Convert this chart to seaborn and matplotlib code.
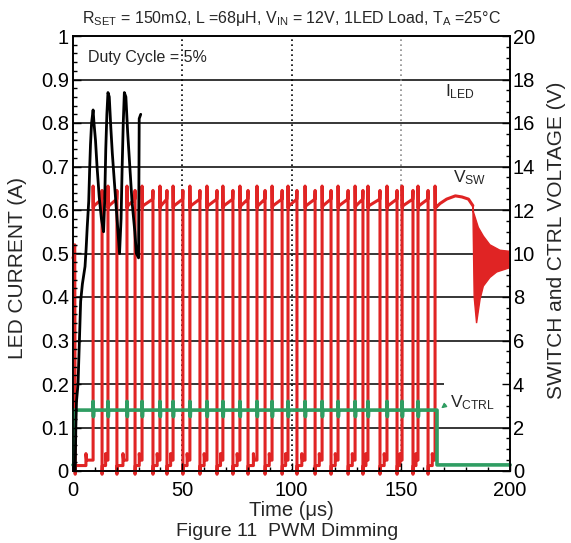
import matplotlib
matplotlib.use("Agg")
import matplotlib.pyplot as plt
import seaborn as sns
import pandas as pd
from matplotlib.ticker import MultipleLocator, FuncFormatter

sns.set_theme(style="white")
plt.rcParams['font.family'] = ['Liberation Sans', 'DejaVu Sans']
plt.rcParams['mathtext.fontset'] = 'custom'
plt.rcParams['mathtext.rm'] = 'Liberation Sans'
plt.rcParams['mathtext.it'] = 'Liberation Sans:italic'
plt.rcParams['mathtext.bf'] = 'Liberation Sans:bold'

# ---------------- data ----------------
# switch node: times (us) where V_SW falls to ~0 V and rises back to ~12 V
fall_t = [1.0, 13.3, 20.1, 28.4, 36.6, 43.0, 50.3, 58.1, 65.9, 73.2, 80.1,
          87.9, 95.7, 102.5, 110.8, 118.1, 125.9, 132.7, 140.5, 148.3, 155.6, 162.5]
rise_t = [9.2, 16.0, 24.7, 31.6, 39.8, 45.8, 53.5, 61.3, 68.6, 76.4, 84.2,
          91.1, 98.4, 106.2, 114.0, 121.3, 129.1, 135.0, 143.7, 150.6, 157.9, 165.7]
# V_SW levels (V)
vsw_start_t = [0.0, 0.4, 0.8]
vsw_start_v = [9.8, 9.9, 10.4]
hi_start, hi_end, spike_rise, spike_fall = 12.1, 12.5, 13.1, 12.9
lo_under, lo_start, lo_bump, lo_end = -0.15, 0.25, 0.8, 0.5
# V_SW after dimming off: hump then ringing envelope
hump_t = [165.9, 168.0, 171.0, 175.0, 178.0, 181.0, 183.0]
hump_v = [12.1, 12.3, 12.5, 12.65, 12.6, 12.5, 12.2]
ring_hi_t = [183.0, 183.3, 185.5, 187.8, 190.8, 195.4, 200.0]
ring_hi_v = [12.2, 11.9, 11.2, 10.8, 10.4, 10.15, 10.1]
ring_lo_t = [183.0, 183.6, 184.7, 186.3, 187.8, 190.8, 193.9, 200.0]
ring_lo_v = [12.2, 8.0, 6.8, 7.9, 8.5, 8.9, 9.15, 9.35]

# V_CTRL (V)
vctrl_on_t, vctrl_off_t = 0.5, 166.6
vctrl_hi, vctrl_lo = 2.8, 0.28
vctrl_spike_up, vctrl_spike_dn = 3.2, 2.5

# I_LED (A)
iled_t = [0.0, 1.0, 1.3, 1.6, 2.3, 3.0, 3.5, 4.3, 5.5, 6.0, 6.5, 7.2, 7.6, 8.0,
          8.5, 9.2, 9.6, 10.3, 11.0, 12.0, 13.0, 14.0, 14.5, 15.0, 15.5, 16.0,
          16.6, 17.3, 18.0, 19.0, 20.3, 21.3, 22.0, 22.5, 23.0, 23.5, 24.2, 25.0,
          26.0, 27.0, 28.3, 29.0, 30.0, 30.3, 31.0]
iled_a = [0.0, 0.0, 0.10, 0.16, 0.20, 0.31, 0.39, 0.43, 0.47, 0.51, 0.56, 0.62,
          0.69, 0.75, 0.80, 0.83, 0.80, 0.76, 0.70, 0.63, 0.58, 0.55, 0.62, 0.74,
          0.82, 0.87, 0.86, 0.79, 0.73, 0.66, 0.57, 0.50, 0.58, 0.70, 0.80, 0.87,
          0.86, 0.78, 0.70, 0.62, 0.55, 0.50, 0.49, 0.81, 0.82]

grid_v = [2, 4, 6, 8, 10, 12, 14, 16, 18]
grid_end = [200, 170, 200, 200, 200, 200, 200, 200, 200]
dotted_t = [50, 100, 150]
dotted_col = ['black', 'black', '0.55']

# ---------------- build traces from the data ----------------
vt, vv = list(vsw_start_t), list(vsw_start_v)
for i, (f, r) in enumerate(zip(fall_t, rise_t)):
    if i > 0:
        vt += [f - 0.1, f]
        vv += [hi_end, spike_fall]
    mid = f + 0.6 * (r - f)
    vt += [f, f + 0.1, mid, mid, mid + 0.3, r, r, r + 0.08, r + 0.5]
    vv += [lo_under, lo_start, lo_start, lo_bump, lo_end, lo_end, spike_rise, hi_start, hi_start + 0.1]
vt += hump_t
vv += hump_v
vsw = pd.DataFrame({'t': vt, 'v': vv})

ct = [0.0, vctrl_on_t, vctrl_on_t]
cv = [vctrl_lo, vctrl_lo, vctrl_hi]
for r in rise_t[:-1]:
    ct += [r - 0.1, r, r + 0.15, r + 0.3]
    cv += [vctrl_hi, vctrl_spike_up, vctrl_spike_dn, vctrl_hi]
ct += [vctrl_off_t, vctrl_off_t, 200.0]
cv += [vctrl_hi, vctrl_lo, vctrl_lo]
vctrl = pd.DataFrame({'t': ct, 'v': cv})

iled = pd.DataFrame({'t': iled_t, 'a': iled_a})

# ---------------- figure ----------------
RED, GREEN = '#e02424', '#2f9d62'
fig = plt.figure(figsize=(5.71, 5.43), dpi=100)
ax = fig.add_axes([73 / 571, 1 - 471 / 543, 437 / 571, 435 / 543])
ax2 = ax.twinx()
ax.set_zorder(ax2.get_zorder() + 1)
ax.patch.set_visible(False)
ax2.patch.set_facecolor('white')

ax2.hlines(grid_v, 0, grid_end, colors='black', lw=1.1, zorder=1)
for x, c in zip(dotted_t, dotted_col):
    ax2.axvline(x, color=c, ls=(0, (1, 2)), lw=1.2, zorder=1)

sns.lineplot(data=vsw, x='t', y='v', sort=False, estimator=None, ax=ax2,
             color=RED, lw=2.2, zorder=3, clip_on=False)
ax2.fill(ring_hi_t + ring_lo_t[::-1], ring_hi_v + ring_lo_v[::-1],
         color=RED, lw=1.0, zorder=3)
sns.lineplot(data=vctrl, x='t', y='v', sort=False, estimator=None, ax=ax2,
             color=GREEN, lw=2.6, zorder=4, clip_on=False)
sns.lineplot(data=iled, x='t', y='a', sort=False, estimator=None, ax=ax,
             color='black', lw=2.0, zorder=5)

ax.set_xlim(0, 200)
ax.set_ylim(0, 1)
ax2.set_ylim(0, 20)
ax.set_xlabel('')
ax.set_ylabel('')
ax2.set_ylabel('')

fmt = FuncFormatter(lambda v, _: f'{v:g}')
ax.xaxis.set_major_locator(MultipleLocator(50))
ax.xaxis.set_minor_locator(MultipleLocator(10))
ax.yaxis.set_major_locator(MultipleLocator(0.1))
ax.yaxis.set_minor_locator(MultipleLocator(0.02))
ax2.yaxis.set_major_locator(MultipleLocator(2))
ax2.yaxis.set_minor_locator(MultipleLocator(0.5))
ax.xaxis.set_major_formatter(fmt)
ax.yaxis.set_major_formatter(FuncFormatter(lambda v, _: f'{round(v, 2):g}'))
ax2.yaxis.set_major_formatter(fmt)

ax.tick_params(axis='both', which='both', direction='in', colors='black',
               labelsize=14.5, left=True, bottom=True, top=False, right=False)
ax.tick_params(axis='both', which='major', length=6, width=1)
ax.tick_params(axis='both', which='minor', length=3, width=1)
ax.tick_params(axis='y', pad=3)
ax.tick_params(axis='x', pad=7)
ax2.tick_params(axis='y', which='both', direction='in', labelsize=14.5, pad=2,
                right=True, left=False, colors='black')
ax2.tick_params(axis='y', which='major', length=6, width=1)
ax2.tick_params(axis='y', which='minor', length=3, width=1)
for a in (ax, ax2):
    for s in a.spines.values():
        s.set_color('black')
        s.set_linewidth(1.2)

ax.text(0.034, 0.95, 'Duty Cycle = 5%', transform=ax.transAxes, fontsize=11.5,
        va='center', ha='left')
ax.text(170.3, 0.862, r'I$_{\mathrm{LED}}$', fontsize=12.5, ha='left', va='baseline', zorder=6)
ax.text(173.9, 0.664, r'V$_{\mathrm{SW}}$', fontsize=12.5, ha='left', va='baseline', zorder=6)
ax.text(172.5, 0.147, r'V$_{\mathrm{CTRL}}$', fontsize=12.5, ha='left', va='baseline', zorder=6)
ax.annotate('', xy=(167.5, 0.140), xytext=(171.5, 0.156),
            arrowprops=dict(arrowstyle='-|>', color=GREEN, lw=1.0, mutation_scale=7), zorder=6)

fig.text(291.5 / 571, 1 - 18 / 543,
         r'R$_{\mathrm{SET}}$ = 150m$\Omega$, L =68μH, V$_{\mathrm{IN}}$ = 12V, 1LED Load, T$_{\mathrm{A}}$ =25°C',
         fontsize=11.5, ha='center', va='center')
fig.text(291 / 571, 1 - 511 / 543, 'Time (μs)', fontsize=14.5, ha='center', va='center')
fig.text(287 / 571, 1 - 531 / 543, 'Figure 11  PWM Dimming', fontsize=14, ha='center', va='center')
fig.text(18 / 571, 1 - 268 / 543, 'LED CURRENT (A)', fontsize=15, rotation=90,
         ha='center', va='center')
fig.text(557 / 571, 1 - 240 / 543, 'SWITCH and CTRL VOLTAGE (V)', fontsize=15, rotation=90,
         ha='center', va='center')

fig.savefig('out.png', dpi=100)
